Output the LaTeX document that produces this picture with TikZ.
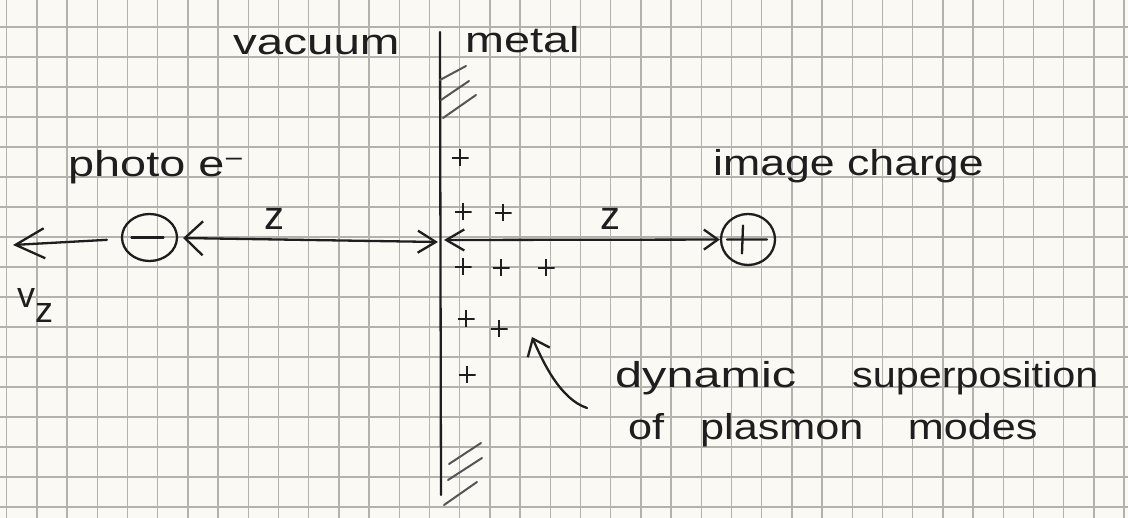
\documentclass[tikz,border=0pt]{standalone}
\usepackage{fontspec}
\setmainfont{Liberation Sans}
\usetikzlibrary{arrows.meta,shapes.geometric}
\definecolor{paper}{RGB}{251,249,243}
\definecolor{gridc}{RGB}{180,178,172}
\definecolor{ink}{RGB}{30,30,30}
\definecolor{hatchc}{RGB}{85,85,85}
\begin{document}
\begin{tikzpicture}[x=1pt,y=-1pt,
  gridline/.style={draw=gridc,line width=1.5pt},
  pen/.style={draw=ink,line width=2.3pt,line cap=round,line join=round},
  hatch/.style={draw=hatchc,line width=2pt,line cap=round},
  hand/.style={text=ink,inner sep=0pt,font=\fontsize{36}{40}\selectfont},
  charge/.style={ellipse,draw=ink,line width=2.3pt,inner sep=0pt,minimum width=55pt,minimum height=47pt},
  plusmark/.style={minimum size=17pt,inner sep=0pt,
    path picture={\draw[ink,line width=2pt] (path picture bounding box.north) -- (path picture bounding box.south)
      (path picture bounding box.west) -- (path picture bounding box.east);}}
]
\useasboundingbox[fill=paper] (0,0) rectangle (1128,518);
% grid paper
\foreach \k in {0,...,37} \draw[gridline] ({6.7+30.2*\k},0) -- ({6.7+30.2*\k},518);
\foreach \k in {0,...,16} \draw[gridline] (0,{27+30*\k}) -- (1128,{27+30*\k});

% interface
\coordinate (itop) at (440,32);
\coordinate (ibot) at (441,495);
\draw[pen] (itop) -- (ibot);
\draw[hatch] (440,80) -- (466,66);
\draw[hatch] (441,100) -- (469,81);
\draw[hatch] (443,118) -- (476,95);
\draw[hatch] (449,464) -- (481,443);
\draw[hatch] (448,480) -- (482,458);
\draw[hatch] (444,505) -- (477,482);

% labels
\node[hand,anchor=base west] (vac) at (233,55) {\scalebox{1.32}[1]{vacuum}};
\node[hand,anchor=base west] (met) at (465,53) {\scalebox{1.3}[1]{metal}};
\node[hand,anchor=base west] (pho) at (68,177) {\scalebox{1.3}[1]{photo e\textsuperscript{\char"2212}}};
\node[hand,anchor=base west] (img) at (713,176) {\scalebox{1.24}[1]{image charge}};
\node[hand,anchor=base west] (dyn) at (615,388) {\scalebox{1.35}[1]{dynamic}\hspace{56pt}\scalebox{1.15}[1]{superposition}};
\node[hand,anchor=base west] (plas) at (628,440) {\scalebox{1.2}[1]{of\hspace{20pt} plasmon\hspace{27pt} modes}};
\node[hand,font=\fontsize{40}{44}\selectfont] (zL) at (274,219) {z};
\node[hand,font=\fontsize{40}{44}\selectfont] (zR) at (610,219) {z};
\node[hand,anchor=base west] (vz) at (17,308) {v\raisebox{-15pt}{z}};

% charges
\node[charge] (e) at (149.5,237.5) {};
\draw[pen] ([xshift=-18pt]e.center) -- ([xshift=14pt]e.center);
\node[charge,minimum width=54pt,minimum height=51pt] (ic) at (748,239.5) {};
\draw[pen] ([xshift=-21pt]ic.center) -- ([xshift=19pt]ic.center)
  ([xshift=-5pt,yshift=14pt]ic.center) -- ([xshift=-6pt,yshift=-14pt]ic.center);

% surface charges
\foreach \n/\p in {p1/{(460,158)},p2/{(463,212)},p3/{(503,213)},p4/{(463,267)},p5/{(501,268)},
  p6/{(546,268)},p7/{(466,319)},p8/{(499,329)},p9/{(467,375)}}
  \node[plusmark] (\n) at \p {};

% arrows
\coordinate (vtip) at (13,245);
\draw[pen,-{Straight Barb[length=29pt,width=30pt]},shorten <=14pt] (e) -- (vtip);
\coordinate (oL) at (438,242);
\coordinate (oR) at (444,240);
\draw[pen,{Straight Barb[length=18pt,width=34pt]}-{Straight Barb[length=18pt,width=22pt]},shorten <=5pt] (e) -- (oL);
\draw[pen,{Straight Barb[length=18pt,width=21pt]}-{Straight Barb[length=14pt,width=20pt]}] (oR) -- (ic);
\coordinate (cstart) at (587,408);
\coordinate (ctip) at (532,337);
\draw[pen,-{Straight Barb[length=15pt,width=24pt]}] (cstart) .. controls (560,399) and (543,362) .. (ctip);
\end{tikzpicture}
\end{document}
